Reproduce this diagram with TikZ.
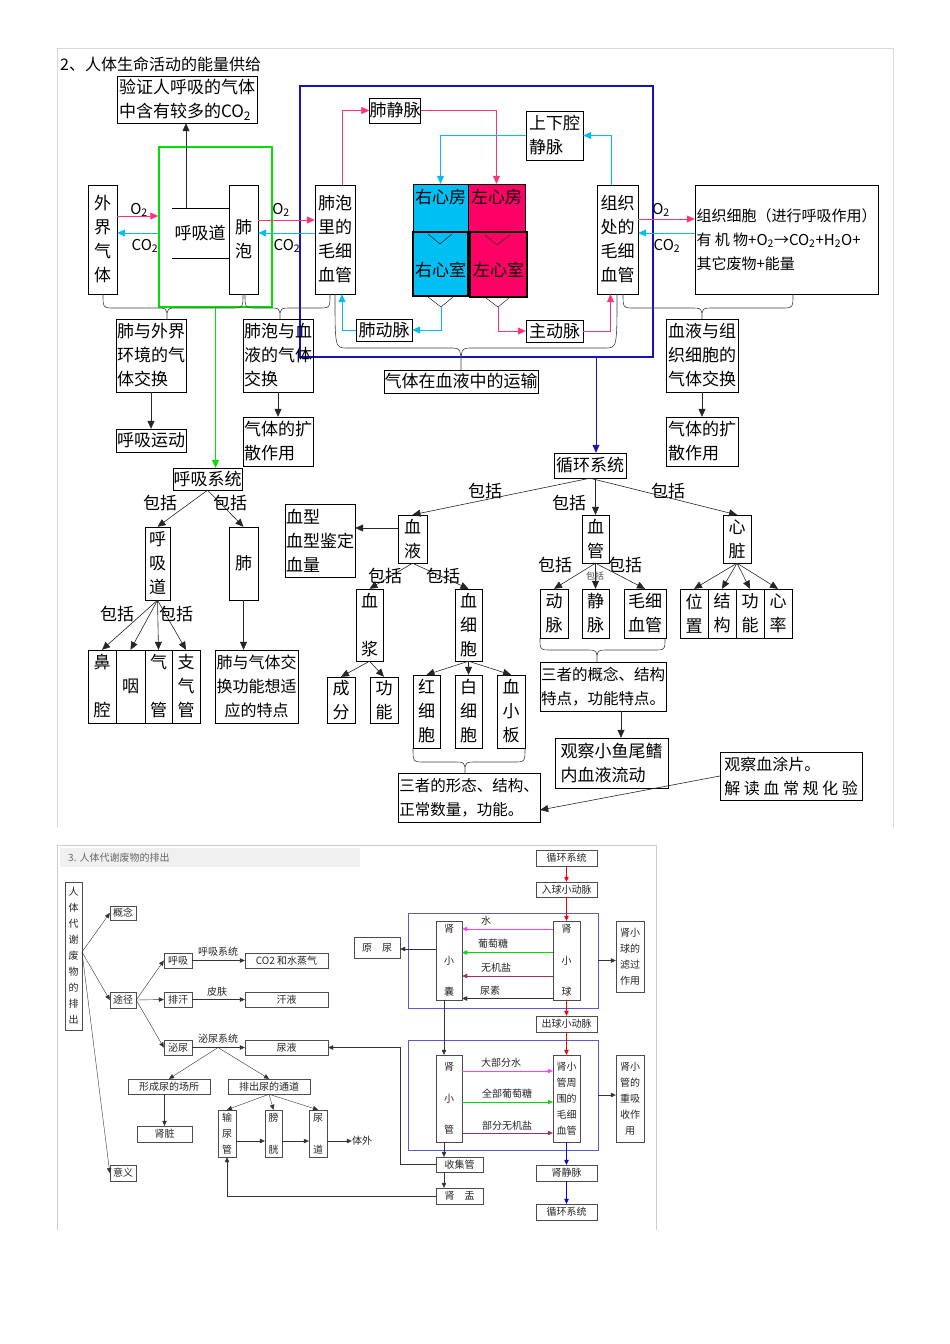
\documentclass[tikz,border=0pt]{standalone}
\usepackage{fontspec}
\setmainfont{Noto Sans CJK SC}
\usetikzlibrary{arrows.meta}

\definecolor{hotpink}{RGB}{255,51,119}
\definecolor{skyc}{RGB}{0,191,243}
\definecolor{heartred}{RGB}{255,0,102}
\definecolor{lgreen}{RGB}{0,225,0}
\definecolor{dblue}{RGB}{20,20,190}
\definecolor{magen}{RGB}{255,60,255}
\definecolor{purp}{RGB}{150,50,100}

\newcommand{\bigtxt}{\fontsize{17}{24}\selectfont}
\newcommand{\smtxt}{\fontsize{10}{16}\selectfont}
% curly bracket: x left, x right, x tip, y top, y middle, y tip
\newcommand{\curly}[6]{%
  \draw[brc] (#1,#4) .. controls (#1,#5) .. (#1+12,#5) -- (#3-12,#5)
    .. controls (#3,#5) .. (#3,#6) .. controls (#3,#5) .. (#3+12,#5)
    -- (#2-12,#5) .. controls (#2,#5) .. (#2,#4);}

\begin{document}
\begin{tikzpicture}[x=1pt,y=-1pt,
  bx/.style 2 args={draw,inner sep=0pt,minimum width=#1pt,minimum height=#2pt,align=center,font=\bigtxt},
  lbx/.style 2 args={bx={#1}{#2},align=left},
  sbx/.style 2 args={draw=black!70,inner sep=0pt,minimum width=#1pt,minimum height=#2pt,align=center,font=\smtxt,text=black!85},
  lbl/.style={inner sep=0pt,font=\bigtxt},
  slbl/.style={inner sep=0pt,font=\smtxt,text=black!85},
  arr/.style={-{Triangle[length=8pt,width=7pt]},black!85,semithick},
  parr/.style={arr,hotpink,thick},
  carr/.style={arr,skyc,thick},
  sarr/.style={-{Triangle[length=5pt,width=4.5pt]},black!80},
  brc/.style={black!75,semithick},
  chamber/.style={draw,inner sep=0pt}]
\fill[white] (0,0) rectangle (950,1344);
\useasboundingbox (0,0) rectangle (950,1344);

% page frames
\draw[black!15] (57,828) -- (57,48) -- (893,48) -- (893,828);
\draw[black!20] (57,1230) -- (57,845) -- (656,845) -- (656,1230);

% ---- 2. energy supply ----
\node[lbl,anchor=west,font=\fontsize{16}{20}\selectfont] (t2) at (60,64) {2、人体生命活动的能量供给};
\node[lbx={140}{47}] (yz) at (187,99.5) {验证人呼吸的气体\\中含有较多的CO\textsubscript{2}};

\node[draw=lgreen,line width=1.5pt,minimum width=113pt,minimum height=160pt,inner sep=0pt] (hxxt) at (215.5,227) {};
\node[draw=dblue,line width=1.2pt,minimum width=353pt,minimum height=271pt,inner sep=0pt] (xhyd) at (476.5,221.5) {};

\node[bx={29}{109}] (wjqt) at (102.5,239.5) {外\\界\\气\\体};
\node[lbl] (hxd) at (200,233) {呼吸道};
\draw (172,208) -- (229,208);
\draw (172,258) -- (229,258);
\coordinate (hxdt) at (186,208);
\draw[arr] (hxdt) -- (yz.south -| hxdt);
\node[bx={29}{109}] (fp) at (243.5,239.5) {肺\\泡};
\node[lbx={40}{109}] (fpmx) at (335,239.5) {肺泡\\里的\\毛细\\血管};
\node[bx={50}{25}] (fjm) at (395,110.5) {肺静脉};
\node[lbx={57}{49}] (sxqjm) at (554.5,135.5) {上下腔\\静脉};

% heart
\node[chamber,fill=skyc,minimum width=55pt,minimum height=48pt] (yxf) at (440.5,208) {};
\node[chamber,fill=heartred,minimum width=57pt,minimum height=48pt] (zxf) at (496.5,208) {};
\node[chamber,fill=skyc,line width=2.5pt,minimum width=55pt,minimum height=64pt] (yxs) at (440.5,264) {};
\node[chamber,fill=heartred,line width=2.5pt,minimum width=57pt,minimum height=65pt] (zxs) at (498.5,264.5) {};
\node[lbl] (yxft) at (440.5,197) {右心房};
\node[lbl] (zxft) at (496.5,197) {左心房};
\node[lbl] (yxst) at (440.5,270) {右心室};
\node[lbl] (zxst) at (498.5,270) {左心室};
\draw (428,234) -- (440,244) -- (452,234);
\draw (485,235) -- (497,245) -- (510,235);
\draw (428,297) -- (441,307) -- (453,297);
\draw (486,298) -- (498,307) -- (509,298);

\node[bx={56}{22}] (fdm) at (384,330) {肺动脉};
\node[bx={57}{22}] (zdm) at (554.5,331) {主动脉};
\node[lbx={41}{109}] (zzmx) at (617.5,239.5) {组织\\处的\\毛细\\血管};
\node[lbx={183}{109},font=\fontsize{15}{24}\selectfont] (zzxb) at (786.5,239.5) {组织细胞（进行呼吸作用）\\有 机 物+O\textsubscript{2}→CO\textsubscript{2}+H\textsubscript{2}O+\\其它废物+能量};

% gas labels and arrows
\node[lbl,font=\fontsize{15}{18}\selectfont] (o2a) at (139,210) {O\textsubscript{2}};
\node[lbl,font=\fontsize{15}{18}\selectfont] (co2a) at (145,246) {CO\textsubscript{2}};
\node[lbl,font=\fontsize{15}{18}\selectfont] (o2b) at (281,210) {O\textsubscript{2}};
\node[lbl,font=\fontsize{15}{18}\selectfont] (co2b) at (287,246) {CO\textsubscript{2}};
\node[lbl,font=\fontsize{15}{18}\selectfont] (o2c) at (661,210) {O\textsubscript{2}};
\node[lbl,font=\fontsize{15}{18}\selectfont] (co2c) at (667,246) {CO\textsubscript{2}};
\draw[parr] ([yshift=23.5pt]wjqt.east) -- ([yshift=23.5pt]wjqt.east -| hxxt.west);
\draw[carr] ([yshift=6.5pt]wjqt.east -| hxxt.west) -- ([yshift=6.5pt]wjqt.east);
\draw[parr] ([yshift=19.5pt]fp.east) -- ([yshift=19.5pt]fpmx.west);
\draw[carr] ([yshift=6.5pt]fpmx.west) -- ([yshift=6.5pt]fp.east);
\draw[parr] ([yshift=20.5pt]zzmx.east) -- ([yshift=20.5pt]zzxb.west);
\draw[carr] ([yshift=6.5pt]zzxb.west) -- ([yshift=6.5pt]zzmx.east);

% blood circuits
\draw[parr] ([xshift=7pt]fpmx.north) |- (fjm.west);
\draw[parr] (fjm.east) -| (zxf.north);
\draw[carr] ([xshift=-6.5pt]zzmx.north) |- (sxqjm.east);
\draw[carr] (sxqjm.west) -| (yxf.north);
\coordinate (yv) at (441,307);
\coordinate (zv) at (498,307);
\draw[carr] (yv) |- (fdm.east);
\draw[carr] (fdm.west) -| ([xshift=7pt]fpmx.south);
\draw[parr] (zv) |- (zdm.west);
\draw[parr] (zdm.east) -| ([xshift=-7pt]zzmx.south);

% brackets
\curly{103}{243}{167}{294}{308}{319}
\curly{245}{330}{280}{294}{308}{319}
\curly{335}{617}{461}{294}{348}{370}
\curly{623}{793}{702}{294}{308}{319}

\node[lbx={70}{73}] (qtjh1) at (151,355.5) {肺与外界\\环境的气\\体交换};
\node[lbx={70}{73}] (qtjh2) at (278,355.5) {肺泡与血\\液的气体\\交换};
\node[bx={154}{23}] (ysys) at (461,381.5) {气体在血液中的运输};
\node[lbx={72}{73}] (qtjh3) at (702,355.5) {血液与组\\织细胞的\\气体交换};
\node[bx={70}{23}] (hxyd) at (151,440.5) {呼吸运动};
\node[lbx={70}{49}] (kszy1) at (278,441.5) {气体的扩\\散作用};
\node[lbx={72}{49}] (kszy2) at (702,441.5) {气体的扩\\散作用};
\draw[arr] (qtjh1) -- (hxyd);
\draw[arr] (qtjh2) -- (kszy1);
\draw[arr] (qtjh3) -- (kszy2);

% respiratory system
\node[bx={69}{22}] (hxxt2) at (207.5,479) {呼吸系统};
\draw[arr,lgreen] (hxxt.south) -- (hxxt.south |- hxxt2.north);
\node[bx={25}{73}] (hxd2) at (157.5,563.5) {呼\\吸\\道};
\node[bx={29}{73}] (fei) at (243.5,563.5) {肺};
\draw[arr] (hxxt2.south) -- (hxd2.north);
\draw[arr] (hxxt2.south) -- (fei.north);
\node[lbl] (bk1) at (160,503) {包括};
\node[lbl] (bk2) at (230,503) {包括};
\node[bx={28}{73}] (bq) at (102,686.5) {鼻\\~\\腔};
\node[bx={29}{73}] (yan) at (130.5,686.5) {咽};
\node[bx={27}{73}] (qg) at (158.5,686.5) {气\\~\\管};
\node[bx={28}{73}] (zqg) at (186,686.5) {支\\气\\管};
\draw[arr] (hxd2.south) -- (bq.north);
\draw[arr] (hxd2.south) -- (yan.north);
\draw[arr] (hxd2.south) -- (qg.north);
\draw[arr] (hxd2.south) -- (zqg.north);
\node[lbl] (bk3) at (117,614) {包括};
\node[lbl] (bk4) at (176,614) {包括};
\node[bx={83}{73},font=\fontsize{16}{24}\selectfont] (ftz) at (256.5,686.5) {肺与气体交\\换功能想适\\应的特点};
\draw[arr] (fei) -- (fei.south |- ftz.north);

% circulatory system
\node[bx={72}{25}] (xhxt) at (590,465.5) {循环系统};
\draw[arr,dblue] ([xshift=6pt]xhxt.north |- xhyd.south) -- ([xshift=6pt]xhxt.north);
\node[bx={29}{48}] (xy) at (412.5,539) {血\\液};
\node[bx={27}{48}] (xg) at (595.5,539) {血\\管};
\node[bx={28}{48}] (xz) at (737,539) {心\\脏};
\draw[arr] (xhxt.south) -- (xy.north);
\draw[arr] (xg.north |- xhxt.south) -- (xg.north);
\draw[arr] (xhxt.south) -- (xz.north);
\node[lbl] (bk5) at (485,491) {包括};
\node[lbl] (bk6) at (569,503) {包括};
\node[lbl] (bk7) at (668,491) {包括};
\node[lbx={70}{73}] (xx) at (320,540.5) {血型\\血型鉴定\\血量};
\draw[arr] ([yshift=11pt]xy.west) -- ([yshift=11pt]xy.west -| xx.east);
\node[bx={27}{72}] (xj) at (369.5,625) {血\\~\\浆};
\node[bx={27}{72}] (xxb) at (468.5,625) {血\\细\\胞};
\draw[arr] (xy.south) -- (xj.north);
\draw[arr] (xy.south) -- (xxb.north);
\node[lbl] (bk8) at (385,576) {包括};
\node[lbl] (bk9) at (443,576) {包括};
\node[bx={28}{46}] (cf) at (341,700) {成\\分};
\node[bx={28}{46}] (gn) at (384,700) {功\\能};
\draw[arr] (xj.south) -- (cf.north);
\draw[arr] (xj.south) -- (gn.north);
\node[bx={27}{73}] (hxb) at (426.5,711.5) {红\\细\\胞};
\node[bx={27}{73}] (bxb) at (468.5,711.5) {白\\细\\胞};
\node[bx={28}{73}] (xxb2) at (511,711.5) {血\\小\\板};
\draw[arr] (xxb.south) -- (hxb.north);
\draw[arr] (xxb.south) -- (bxb.north);
\draw[arr] (xxb.south) -- (xxb2.north);
\curly{413}{525}{465}{748}{762}{773}
\node[lbx={142}{49},font=\fontsize{15.5}{24}\selectfont] (szxt) at (469,797.5) {三者的形态、结构、\\正常数量，功能。};

\node[bx={28}{49}] (dm) at (554,613.5) {动\\脉};
\node[bx={27}{49}] (jm) at (595.5,613.5) {静\\脉};
\node[bx={42}{49}] (mxg) at (645,613.5) {毛细\\血管};
\draw[arr] (xg.south) -- (dm.north);
\draw[arr] (xg.south) -- (jm.north);
\draw[arr] (xg.south) -- (mxg.north);
\node[lbl] (bk10) at (555,565) {包括};
\node[lbl] (bk11) at (625,565) {包括};
\node[lbl,font=\fontsize{9}{10}\selectfont,text=black!70] (bk12) at (595,576) {包括};
\curly{540}{665}{597}{638}{650}{662}
\node[lbx={126}{49},font=\fontsize{15.5}{24}\selectfont] (szgn) at (603,686.5) {三者的概念、结构\\特点，功能特点。};
\node[lbx={113}{50}] (gcyw) at (611.5,763) {观察小鱼尾鳍\\内血液流动};
\draw[arr] ([xshift=18pt]szgn.south) -- ([xshift=18pt]szgn.south |- gcyw.north);

\node[bx={28}{49}] (wz) at (694,613.5) {位\\置};
\node[bx={28}{49}] (jg) at (722,613.5) {结\\构};
\node[bx={28}{49}] (gn2) at (750,613.5) {功\\能};
\node[bx={28}{49}] (xl) at (778,613.5) {心\\率};
\draw[arr] (xz.south) -- (wz.north);
\draw[arr] (xz.south) -- (jg.north);
\draw[arr] (xz.south) -- (gn2.north);
\draw[arr] (xz.south) -- (xl.north);
\node[lbx={142}{48},font=\fontsize{16}{24}\selectfont] (gctp) at (791,776) {观察血涂片。\\解 读 血 常 规 化 验};
\draw[arr] (gctp.west) -- ([yshift=-12.5pt]szxt.east);

% ---- 3. excretion ----
\fill[black!6] (60,848) rectangle (360,867);
\node[slbl,anchor=west,text=black!60] (t3) at (68,858) {3. 人体代谢废物的排出};
\node[sbx={17}{148}] (rt) at (73.5,956) {人\\体\\代\\谢\\废\\物\\的\\排\\出};
\coordinate (rtp) at (82,952);
\node[sbx={26}{14}] (gn3) at (123,913) {概念};
\node[sbx={26}{16}] (tj) at (123,1000) {途径};
\node[sbx={26}{16}] (yy) at (123,1173) {意义};
\draw[sarr] (rtp) -- (gn3.west);
\draw[sarr] (rtp) -- (tj.west);
\draw[sarr] (rtp) -- (yy.west);
\node[sbx={28}{15}] (hx) at (178,960.5) {呼吸};
\node[sbx={28}{15}] (ph) at (178,999.5) {排汗};
\node[sbx={28}{15}] (mn) at (178,1047.5) {泌尿};
\draw[sarr] (tj.east) -- (hx.west);
\draw[sarr] (tj.east) -- (ph.west);
\draw[sarr] (tj.east) -- (mn.west);
\node[sbx={83}{15}] (co2) at (286.5,960.5) {CO2 和水蒸气};
\node[sbx={83}{15}] (hy) at (286.5,999.5) {汗液};
\node[sbx={83}{15}] (ny) at (286.5,1047.5) {尿液};
\draw[sarr] (hx) -- (co2);
\draw[sarr] (ph) -- (hy);
\draw[sarr] (mn) -- (ny);
\node[slbl] (l1) at (218,952) {呼吸系统};
\node[slbl] (l2) at (217,992) {皮肤};
\node[slbl] (l3) at (218,1039) {泌尿系统};
\coordinate (mnp) at (218,1047.5);
\node[sbx={82}{15}] (csc) at (169,1086.5) {形成尿的场所};
\node[sbx={82}{15}] (pcn) at (269,1086.5) {排出尿的通道};
\draw[sarr] (mnp) -- (csc.north);
\draw[sarr] (mnp) -- (pcn.north);
\node[sbx={55}{16}] (sz) at (164.5,1134) {肾脏};
\draw[sarr] (sz.north |- csc.south) -- (sz.north);
\node[sbx={18}{47}] (snk) at (227,1133.5) {输\\尿\\管};
\node[sbx={17}{47}] (pg) at (273.5,1133.5) {膀\\~\\胱};
\node[sbx={18}{47}] (nd) at (318,1133.5) {尿\\~\\道};
\draw[sarr] (pcn.south) -- (snk.north);
\draw[sarr] (pcn.south) -- (pg.north);
\draw[sarr] (pcn.south) -- (nd.north);
\node[slbl] (tw) at (362,1141) {体外};
\draw[sarr] ([yshift=-7.5pt]snk.east) -- ([yshift=-7.5pt]pg.west);
\draw[sarr] ([yshift=-7.5pt]pg.east) -- ([yshift=-7.5pt]nd.west);
\draw[sarr] ([yshift=-7.5pt]nd.east) -- (tw.west);

% kidney
\node[sbx={61}{16}] (xh2) at (566.5,858) {循环系统};
\node[sbx={61}{15}] (rq) at (566.5,889.5) {入球小动脉};
\node[draw=dblue!70,minimum width=190pt,minimum height=95pt,inner sep=0pt] (bl1) at (503,960.5) {};
\node[sbx={27}{79}] (sxq) at (566.5,960.5) {肾\\[15.5pt]小\\[15.5pt]球};
\node[sbx={26}{79}] (sxn) at (449,960.5) {肾\\[15.5pt]小\\[15.5pt]囊};
\draw[sarr,red] (xh2) -- (rq);
\draw[sarr,red] (rq) -- (sxq);
\draw[sarr,magen] ([yshift=31.5pt]sxq.west) -- ([yshift=31.5pt]sxq.west -| sxn.east);
\draw[sarr,green!85!black] ([yshift=8pt]sxq.west) -- ([yshift=8pt]sxq.west -| sxn.east);
\draw[sarr,purp] ([yshift=-15.5pt]sxq.west) -- ([yshift=-15.5pt]sxq.west -| sxn.east);
\draw[sarr] ([yshift=-38pt]sxq.west) -- ([yshift=-38pt]sxq.west -| sxn.east);
\node[slbl] (w1) at (486,921) {水};
\node[slbl] (w2) at (493,944) {葡萄糖};
\node[slbl] (w3) at (496,968) {无机盐};
\node[slbl] (w4) at (490,991) {尿素};
\node[sbx={46}{21}] (yn) at (377,947.5) {原　尿};
\draw[sarr] ([yshift=11.5pt]sxn.west) -- ([yshift=11.5pt]sxn.west -| yn.east);
\node[sbx={28}{71}] (lg) at (630,956.5) {肾小\\球的\\滤过\\作用};
\draw[sarr] (bl1.east) -- (bl1.east -| lg.west);
\node[sbx={61}{16}] (cq) at (566.5,1024) {出球小动脉};
\draw[sarr,red] (sxq) -- (cq);
\node[draw=dblue!70,minimum width=190pt,minimum height=110pt,inner sep=0pt] (bl2) at (503,1095) {};
\node[sbx={27}{87}] (mxg2) at (566.5,1098.5) {肾小\\管周\\围的\\毛细\\血管};
\draw[sarr,red] (cq) -- (mxg2);
\node[sbx={26}{87}] (sxg) at (449,1098.5) {肾\\[15.5pt]小\\[15.5pt]管};
\draw[sarr] ([xshift=-5pt]sxn.south) -- ([xshift=-5pt]sxg.north);
\draw[sarr,magen] ([yshift=27.5pt]sxg.east) -- ([yshift=27.5pt]sxg.east -| mxg2.west);
\draw[sarr,green!85!black] ([yshift=-3.5pt]sxg.east) -- ([yshift=-3.5pt]sxg.east -| mxg2.west);
\draw[sarr,purp] ([yshift=-34.5pt]sxg.east) -- ([yshift=-34.5pt]sxg.east -| mxg2.west);
\node[slbl] (r1) at (501,1063) {大部分水};
\node[slbl] (r2) at (507,1094) {全部葡萄糖};
\node[slbl] (r3) at (507,1126) {部分无机盐};
\node[sbx={28}{87}] (cxs) at (630,1098.5) {肾小\\管的\\重吸\\收作\\用};
\draw[sarr] (bl2.east) -- (bl2.east -| cxs.west);
\node[sbx={47}{15}] (sjg) at (459.5,1164.5) {收集管};
\node[sbx={47}{16}] (sy) at (459.5,1196) {肾　盂};
\draw[sarr] ([xshift=-5pt]sxg.south) -- ([xshift=-5pt]sxg.south |- sjg.north);
\draw[sarr] ([xshift=-5pt]sxg.south |- sjg.south) -- ([xshift=-5pt]sxg.south |- sy.north);
\draw[sarr] (sjg.west) -- ++(-36,0) |- (ny.east);
\draw[sarr] (sy.west) -| (snk.south);
\node[sbx={61}{16}] (sjm) at (566.5,1173) {肾静脉};
\node[sbx={61}{16}] (xh3) at (566.5,1212) {循环系统};
\draw[sarr,blue] (mxg2) -- (sjm);
\draw[sarr,blue] (sjm) -- (xh3);
\end{tikzpicture}
\end{document}
